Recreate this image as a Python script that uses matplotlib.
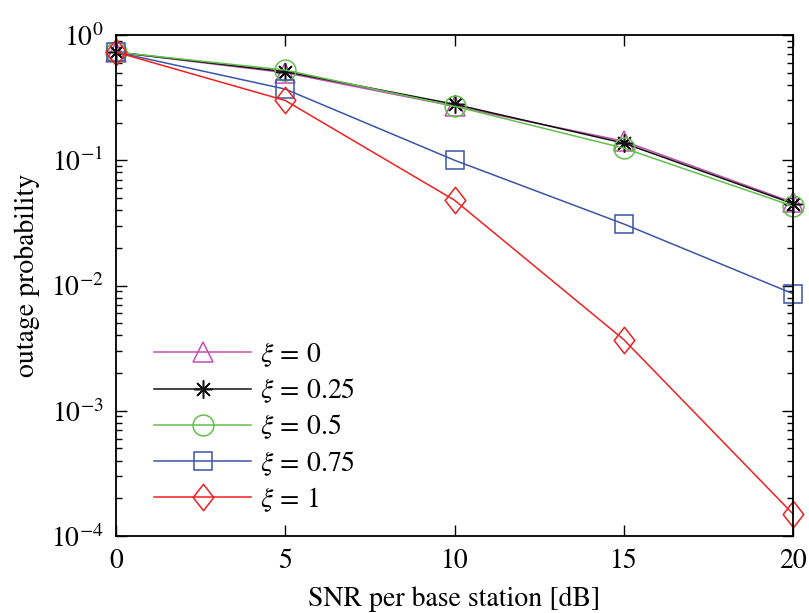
import matplotlib
matplotlib.use("Agg")
import matplotlib.pyplot as plt
from matplotlib.path import Path
from matplotlib.ticker import LogLocator, NullFormatter

# SNR per base station [dB]
snr_db = [0, 5, 10, 15, 20]

# outage probability for each xi
p_xi_0 = [0.73, 0.50, 0.27, 0.142, 0.046]
p_xi_025 = [0.73, 0.51, 0.28, 0.137, 0.045]
p_xi_05 = [0.73, 0.525, 0.27, 0.125, 0.043]
p_xi_075 = [0.73, 0.37, 0.10, 0.031, 0.0086]
p_xi_1 = [0.73, 0.30, 0.048, 0.0037, 0.00015]

labels = [r"$\xi\, =\, 0$", r"$\xi\, =\, 0.25$", r"$\xi\, =\, 0.5$",
          r"$\xi\, =\, 0.75$", r"$\xi\, =\, 1$"]

plt.rcParams["font.family"] = ["STIXGeneral", "DejaVu Serif"]
plt.rcParams["mathtext.fontset"] = "stix"

# MATLAB-like tall diamond
tall_diamond = Path([(0, 1), (0.78, 0), (0, -1), (-0.78, 0), (0, 1)],
                    [Path.MOVETO, Path.LINETO, Path.LINETO, Path.LINETO, Path.CLOSEPOLY])

series = [
    (p_xi_0, "#c04fb2", "^", 15),
    (p_xi_025, "#111111", (8, 2, 0), 13),
    (p_xi_05, "#62c04a", "o", 15),
    (p_xi_075, "#3a55a8", "s", 12.5),
    (p_xi_1, "#f02020", tall_diamond, 19),
]

fig = plt.figure(figsize=(8.09, 6.13), dpi=100)
ax = fig.add_axes([116 / 809, 1 - 536 / 613, (793 - 116) / 809, (536 - 35) / 613])

for (vals, color, marker, ms), label in zip(series, labels):
    ax.plot(snr_db, vals, color=color, linewidth=1.1, marker=marker,
            markersize=ms, markerfacecolor="none", markeredgecolor=color,
            markeredgewidth=1.1, label=label, clip_on=False)

ax.set_yscale("log")
ax.set_xlim(0, 20)
ax.set_ylim(1e-4, 1)
ax.set_xticks([0, 5, 10, 15, 20])
ax.yaxis.set_major_locator(LogLocator(base=10, numticks=10))
ax.yaxis.set_minor_locator(LogLocator(base=10, subs=range(2, 10), numticks=10))
ax.yaxis.set_minor_formatter(NullFormatter())

ax.tick_params(which="both", direction="in", top=True, right=True,
               labelsize=20, width=1.0)
ax.tick_params(which="major", length=8, pad=9)
ax.tick_params(which="minor", length=4)
for sp in ax.spines.values():
    sp.set_linewidth(1.3)

ax.set_xlabel("SNR per base station [dB]", fontsize=20, labelpad=9)
ax.set_ylabel("outage probability", fontsize=20)
ax.yaxis.set_label_coords(-0.112, 0.521)

ax.legend(loc="upper left", bbox_to_anchor=(0.04, 0.413), frameon=False,
          fontsize=20, handlelength=3.5, handletextpad=0.3,
          labelspacing=0.28, borderaxespad=0)

fig.savefig("out.png", dpi=100)
